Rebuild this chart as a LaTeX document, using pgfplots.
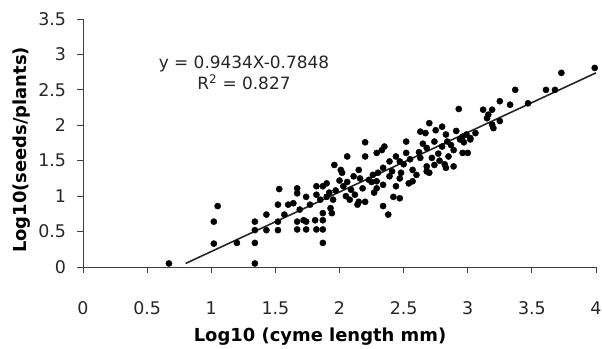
\documentclass[border=0pt]{standalone}
\usepackage{pgfplots}
\pgfplotsset{compat=1.18}
\usepackage{fontspec}
\setmainfont{DejaVu Sans}
\begin{document}
\begin{tikzpicture}
\begin{axis}[
  scale only axis,
  width=513bp, height=248bp,
  xmin=0, xmax=4, ymin=0, ymax=3.5,
  axis lines=left,
  axis line style={-, draw=black!75, line width=0.8bp},
  xtick={0,0.5,...,4},
  ytick={0,0.5,...,3.5},
  tick align=outside,
  major tick length=5.5bp,
  tick style={draw=black!75, line width=0.8bp},
  /pgf/number format/assume math mode=true,
  ticklabel style={font=\fontsize{17.5}{20}\selectfont, text=black!85},
  xticklabel style={anchor=base, yshift=-41.5bp},
  yticklabel style={anchor=east, xshift=-8bp},
  xlabel={Log10 (cyme length mm)},
  ylabel={Log10(seeds/plants)},
  label style={font=\fontsize{18}{22}\selectfont\bfseries},
  xlabel style={at={(axis description cs:0.462,-0.302)}, anchor=base},
  ylabel style={at={(axis description cs:-0.111,0.472)}, anchor=base},
  clip=false,
]
\addplot[only marks, mark=*, mark size=3.1bp, black] coordinates {
(0.67,0.05) (1.05,0.86) (1.02,0.64) (1.02,0.33) (1.20,0.34)
(1.34,0.64) (1.34,0.52) (1.34,0.34) (1.34,0.05) (1.43,0.74) (1.43,0.52)
(1.52,0.52) (1.52,0.64) (1.53,1.10) (1.52,0.88) (1.60,0.88) (1.57,0.74)
(1.64,0.90) (1.67,1.11) (1.67,1.04) (1.67,0.64) (1.67,0.53) (1.69,0.81)
(1.72,0.66) (1.74,0.64) (1.74,0.53) (1.74,0.99) (1.77,0.88) (1.81,0.66)
(1.82,0.53) (1.82,1.02) (1.82,1.14) (1.85,0.95) (1.87,0.53) (1.87,0.34)
(1.87,0.76) (1.87,0.66) (1.87,1.14) (1.90,1.18) (1.90,0.99) (1.93,0.83)
(1.94,0.76) (1.92,1.05) (1.95,0.95) (1.96,1.44)
(2.01,1.37) (2.02,1.33) (2.03,1.14) (2.06,1.56) (2.09,1.09) (2.08,0.95)
(2.14,0.88) (2.15,0.92) (2.15,1.37) (2.16,1.25) (2.18,1.11) (2.20,1.76)
(2.20,1.56) (2.20,0.92) (2.23,1.23) (2.25,1.20) (2.26,1.30) (2.29,1.61)
(2.29,1.21) (2.29,1.11) (2.33,1.65) (2.34,1.40) (2.34,1.16) (2.34,0.86)
(2.35,1.70) (2.38,0.74) (2.39,1.49) (2.39,1.28) (2.42,0.99) (2.44,1.56)
(2.44,1.14) (2.47,1.49) (2.47,1.25) (2.47,0.97) (2.52,1.77) (2.52,1.61)
(2.54,1.18) (2.57,1.37) (2.57,1.21) (2.63,1.91) (2.63,1.54) (2.67,1.89)
(2.68,1.68) (2.68,1.35) (2.68,1.42) (2.70,2.03) (2.70,1.33) (2.72,1.54)
(2.74,1.77) (2.74,1.44) (2.80,1.98) (2.80,1.70) (2.82,1.45) (2.83,1.87)
(2.83,1.40) (2.84,1.77) (2.85,1.56) (2.89,1.65) (2.89,1.42) (2.93,2.23)
(2.94,1.80) (2.96,1.84) (2.96,1.61) (2.99,1.87) (3.00,1.61)
(3.06,1.89) (3.12,2.22) (3.15,2.10) (3.16,2.15) (3.19,2.22) (3.19,2.01)
(3.20,1.96) (3.25,2.06) (3.25,2.34) (3.33,2.29) (3.37,2.50) (3.47,2.31)
(3.61,2.50) (3.68,2.50) (3.73,2.74) (3.99,2.81)
(3.02,1.80) (2.97,1.76) (3.02,1.82)
(2.30,1.33) (2.41,1.35) (2.50,1.45) (2.60,1.30) (2.62,1.62) (2.77,1.60)
(2.78,1.50) (2.12,1.02) (2.00,1.22) (2.11,1.28) (1.97,1.08) (2.05,1.00)
(2.27,1.05) (2.48,1.33) (2.55,1.52) (2.65,1.74) (2.87,1.72) (2.91,1.92)
(2.75,1.93) (2.06,1.20)
};
\addplot[black!85, line width=1.6bp, no marks] coordinates {(0.80,0.05) (4.0,2.74)};
\node[align=center, font=\fontsize{17}{21}\selectfont, text=black!85] at (axis cs:1.255,2.735)
  {y = 0.9434X-0.7848\\R\textsuperscript{2} = 0.827};
\end{axis}
\pgfresetboundingbox
\path[use as bounding box] (-83bp,-82bp) rectangle (519bp,267bp);
\end{tikzpicture}
\end{document}
